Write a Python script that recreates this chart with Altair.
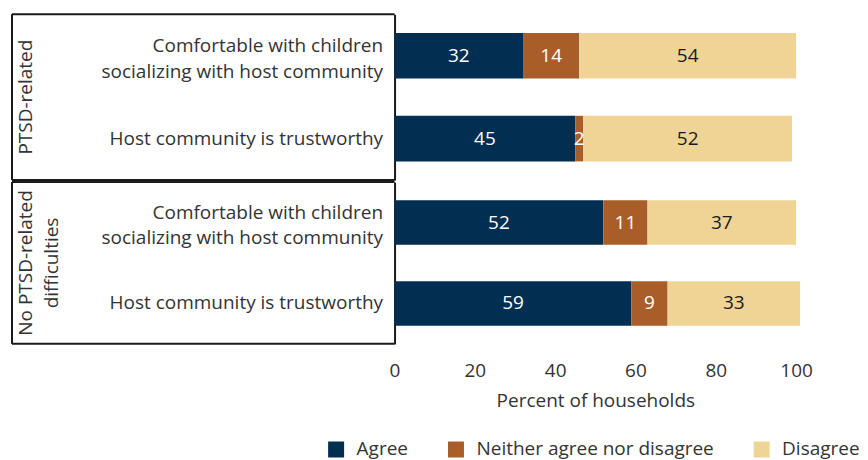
import altair as alt
import pandas as pd

groups = ["PTSD-related", "No PTSD-related|difficulties"]
items = ["Comfortable with children|socializing with host community", "Host community is trustworthy"]
categories = ["Agree", "Neither agree nor disagree", "Disagree"]
agree = [32, 45, 52, 59]
neither = [14, 2, 11, 9]
disagree = [54, 52, 37, 33]
colors = ["#012E51", "#A95E29", "#EFD495"]

rows = []
k = 0
for g in groups:
    for it in items:
        for ci, (c, vals) in enumerate(zip(categories, [agree, neither, disagree])):
            rows.append({"group": g, "item": it, "category": c, "order": ci, "value": vals[k]})
        k += 1
df = pd.DataFrame(rows)

FONT = "Open Sans"
FS = 19
TXT = "#333333"
LINE = "#1a1a1a"
W = 402
HEIGHTS = [166, 162]
LEFT = -383


def panel(gi, show_x):
    H = HEIGHTS[gi]
    sub = df[df["group"] == groups[gi]]
    one = pd.DataFrame({"group": [groups[gi]]})

    yenc = alt.Y("item:N", sort=items, title=None,
                 scale=alt.Scale(paddingInner=0.45, paddingOuter=0.225),
                 axis=alt.Axis(domainColor=LINE, domainWidth=2, ticks=False, labelFontSize=FS,
                               labelColor=TXT, labelFont=FONT, labelPadding=12, labelLimit=400,
                               labelLineHeight=26, labelExpr="split(datum.label, '|')",
                               labelBaseline={"condition": {"test": "indexof(datum.value, '|') >= 0",
                                                            "value": "bottom"}, "value": "middle"}))
    if show_x:
        xaxis = alt.Axis(values=[0, 20, 40, 60, 80, 100], grid=False, domain=False, ticks=False,
                         labelFontSize=FS, labelColor=TXT, labelFont=FONT, labelPadding=18,
                         labelFlush=False,
                         title="Percent of households", titleFontSize=FS, titleFont=FONT,
                         titleFontWeight="normal", titleColor=TXT, titlePadding=11)
    else:
        xaxis = None

    bars = alt.Chart(sub).mark_bar().encode(
        y=yenc,
        x=alt.X("value:Q", stack="zero", scale=alt.Scale(domain=[0, 100], nice=False), axis=xaxis),
        color=alt.Color("category:N", sort=categories,
                        scale=alt.Scale(domain=categories, range=colors),
                        legend=alt.Legend(title=None, orient="none", direction="horizontal",
                                          legendX=-68, legendY=426, symbolType="square",
                                          symbolSize=256, symbolStrokeWidth=0, labelFontSize=FS,
                                          labelFont=FONT, labelColor=TXT, labelOffset=11,
                                          labelLimit=400, columnPadding=38, padding=0)),
        order=alt.Order("order:Q"),
    )

    text = alt.Chart(sub).transform_stack(
        stack="value", groupby=["item"], as_=["v0", "v1"], sort=[alt.SortField("order")]
    ).transform_calculate(mid="(datum.v0 + datum.v1) / 2").mark_text(
        fontSize=FS, font=FONT, baseline="middle"
    ).encode(
        y=alt.Y("item:N", sort=items),
        x=alt.X("mid:Q"),
        text=alt.Text("value:Q"),
        color=alt.condition("datum.category == 'Disagree'", alt.value(LINE), alt.value("white")),
    )

    ft = alt.Chart(one).mark_rule(color=LINE, strokeWidth=2).encode(
        x=alt.value(LEFT), x2=alt.value(0), y=alt.value(0))
    fb = alt.Chart(one).mark_rule(color=LINE, strokeWidth=2).encode(
        x=alt.value(LEFT), x2=alt.value(0), y=alt.value(H))
    fl = alt.Chart(one).mark_rule(color=LINE, strokeWidth=2).encode(
        x=alt.value(LEFT), y=alt.value(0), y2=alt.value(H))

    glabel = alt.Chart(one).mark_text(
        angle=270, align="center", baseline="top", fontSize=FS, font=FONT, color=TXT,
        lineBreak="|", lineHeight=26
    ).encode(x=alt.value(LEFT + 5), y=alt.value(H / 2), text="group:N")

    return alt.layer(bars, text, ft, fb, fl, glabel).properties(width=W, height=H)


chart = alt.vconcat(panel(0, False), panel(1, True), spacing=0).configure_view(
    strokeWidth=0
).properties(padding={"left": 3, "top": 5, "right": 0, "bottom": 0})

chart.save("out.html", embed_options={"renderer": "svg", "actions": False})
